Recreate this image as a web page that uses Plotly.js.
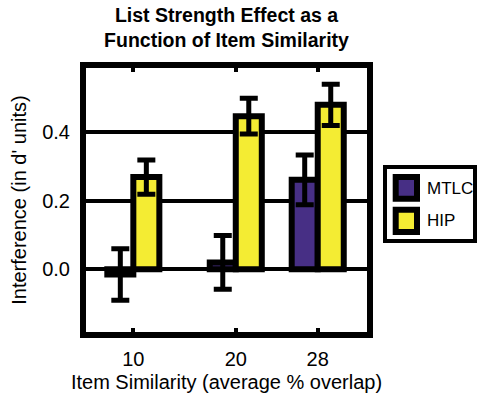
<!DOCTYPE html>
<html>
<head>
<meta charset="utf-8">
<script src="https://cdn.plot.ly/plotly-3.0.1.min.js"></script>
<style>html,body{margin:0;padding:0;background:#fff;}#chart{width:479px;height:393px;}</style>
</head>
<body>
<div id="chart"></div>
<script>
var similarity = [10, 20, 28];
var mtlcValues = [-0.015, 0.02, 0.26];
var mtlcErrors = [0.075, 0.078, 0.072];
var hipValues = [0.268, 0.445, 0.478];
var hipErrors = [0.05, 0.052, 0.06];
var yTicks = [0.0, 0.2, 0.4];
var yTickLabels = ['0.0', '0.2', '0.4'];
var seriesNames = ['MTLC', 'HIP'];
var seriesColors = ['#472f85', '#f4ec33'];

var FONT = 'Liberation Sans, Arial, sans-serif';

function barTrace(name, vals, errs, color) {
  return {
    type: 'bar', name: name, x: similarity, y: vals,
    marker: {color: color, line: {color: '#000', width: 6}},
    error_y: {type: 'data', array: errs, visible: true, color: '#000', thickness: 5, width: 9},
    showlegend: false
  };
}

var data = [
  barTrace(seriesNames[0], mtlcValues, mtlcErrors, seriesColors[0]),
  barTrace(seriesNames[1], hipValues, hipErrors, seriesColors[1])
];

function px2x(px) { return (px - 86) / 281; }
function px2y(py) { return (332 - py) / 264; }

var shapes = [
  {type: 'rect', xref: 'paper', yref: 'paper', x0: px2x(385), x1: px2x(475), y0: px2y(241), y1: px2y(167),
   line: {color: '#000', width: 4}, fillcolor: '#fff'},
  {type: 'rect', xref: 'paper', yref: 'paper', x0: px2x(395.7), x1: px2x(417), y0: px2y(198.7), y1: px2y(177),
   line: {color: '#000', width: 6}, fillcolor: seriesColors[0]},
  {type: 'rect', xref: 'paper', yref: 'paper', x0: px2x(395.7), x1: px2x(417), y0: px2y(232), y1: px2y(209.7),
   line: {color: '#000', width: 6}, fillcolor: seriesColors[1]}
];
var annotations = [
  {xref: 'paper', yref: 'paper', x: px2x(425), y: px2y(188.3), xanchor: 'left', yanchor: 'middle',
   text: seriesNames[0], showarrow: false, font: {family: FONT, size: 17, color: '#000'}},
  {xref: 'paper', yref: 'paper', x: px2x(425), y: px2y(220.5), xanchor: 'left', yanchor: 'middle',
   text: seriesNames[1], showarrow: false, font: {family: FONT, size: 17, color: '#000'}}
];

var layout = {
  width: 479, height: 393,
  margin: {l: 86, r: 112, t: 68, b: 61, pad: 0},
  paper_bgcolor: '#fff', plot_bgcolor: '#fff',
  font: {family: FONT, size: 20, color: '#000'},
  barmode: 'group', bargap: 0.365, bargroupgap: 0,
  title: {text: '<b>List Strength Effect as a<br>Function of Item Similarity</b>',
          font: {family: FONT, size: 19.5, color: '#000'},
          x: 0.5, xref: 'paper', xanchor: 'center', y: 0.944, yref: 'container', yanchor: 'middle'},
  xaxis: {
    type: 'linear', range: [5.38, 32.81], tickvals: similarity, ticktext: similarity.map(String),
    showgrid: false, zeroline: false,
    showline: true, linewidth: 6, linecolor: '#000', mirror: 'allticks',
    ticks: 'inside', ticklen: 4, tickwidth: 4, tickcolor: '#000',
    ticklabelstandoff: 4,
    tickfont: {family: FONT, size: 20, color: '#000'},
    title: {text: 'Item Similarity (average % overlap)', font: {family: FONT, size: 20, color: '#000'}, standoff: 8},
    fixedrange: true
  },
  yaxis: {
    range: [-0.182, 0.585], tickvals: yTicks, ticktext: yTickLabels,
    showgrid: true, gridcolor: '#000', gridwidth: 4,
    zeroline: true, zerolinecolor: '#000', zerolinewidth: 4,
    showline: true, linewidth: 6, linecolor: '#000', mirror: true,
    ticks: '', ticklabelstandoff: 6,
    tickfont: {family: FONT, size: 20, color: '#000'},
    title: {text: "Interference (in d' units)", font: {family: FONT, size: 20, color: '#000'}, standoff: 12},
    fixedrange: true
  },
  shapes: shapes,
  annotations: annotations
};

Plotly.newPlot('chart', data, layout, {displayModeBar: false, staticPlot: true});
</script>
</body>
</html>
